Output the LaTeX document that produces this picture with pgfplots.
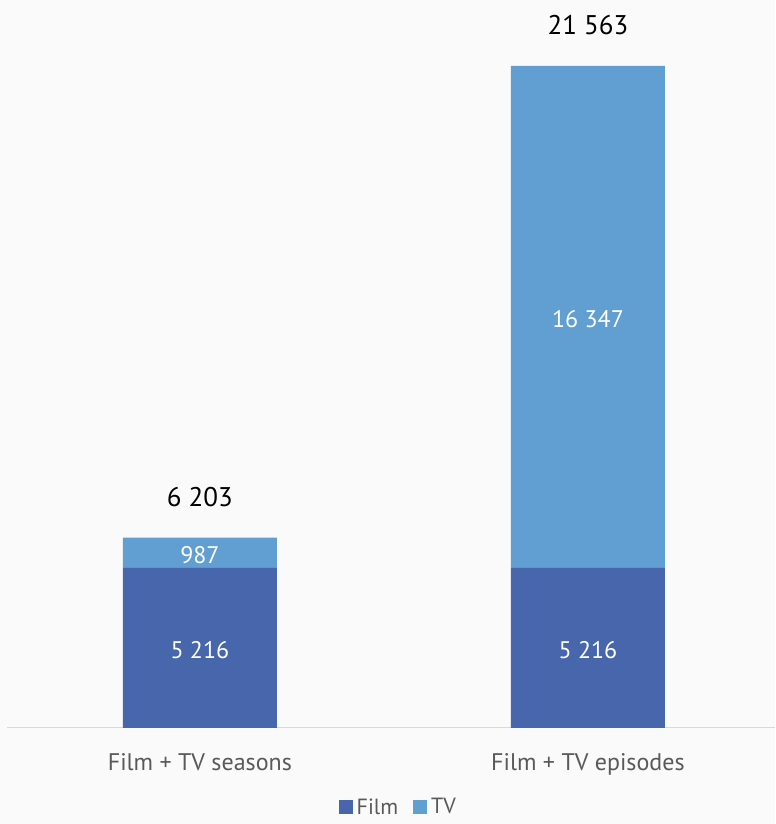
\documentclass[border=0pt]{standalone}
\usepackage{pgfplots}
\pgfplotsset{compat=1.18}
\usepackage{fontspec}
\setmainfont{PT Sans}
\definecolor{filmc}{RGB}{72,102,172}
\definecolor{tvc}{RGB}{97,158,210}
\definecolor{bgc}{RGB}{250,250,250}
\definecolor{labc}{RGB}{89,89,89}
\definecolor{axc}{RGB}{217,217,217}
\pgfplotsset{
  base/.style={
    scale only axis, width=768pt, height=728pt,
    at={(7pt,96pt)}, anchor=south west,
    xmin=-0.497, xmax=1.482, ymin=0, ymax=23713,
    enlargelimits=false, clip=false,
  }
}
\begin{document}
\begin{tikzpicture}
\fill[bgc] (0,0) rectangle (775pt,824pt);
% stacked bars, axis line, ticks and legend
\begin{axis}[base,
  ybar stacked, bar width=154pt,
  axis y line=none, axis x line*=bottom,
  x axis line style={draw=axc, line width=1pt, -},
  xtick={0,1}, xticklabels={Film + TV seasons, Film + TV episodes},
  major tick length=0pt, ytick=\empty,
  xticklabel style={font=\fontsize{24}{28}\selectfont, text=labc, yshift=-22pt},
  legend columns=2,
  legend style={at={(0.5095,-0.1085)}, anchor=center, draw=none, fill=none,
    font=\fontsize{22}{26}\selectfont, text=labc,
    /tikz/every odd column/.append style={column sep=2pt},
    /tikz/every even column/.append style={column sep=13pt}},
  legend image code/.code={\fill[#1] (0pt,-7pt) rectangle (14pt,7pt);},
]
\addplot[fill=filmc, draw=none] coordinates {(0,5216) (1,5216)};
\addplot[fill=tvc, draw=none] coordinates {(0,987) (1,16347)};
\legend{Film, TV}
\end{axis}
% value labels (segment values and totals)
\begin{axis}[base, hide axis,
  /pgf/number format/1000 sep={\ },
  /pgf/number format/assume math mode=true,
]
\addplot[draw=none, mark=none, point meta=explicit, nodes near coords,
  nodes near coords style={anchor=center, yshift=-2.5pt, text=white, font=\fontsize{24}{28}\selectfont}]
  coordinates {(0,2608) [5216] (1,2608) [5216] (0,5709.5) [987] (1,13389.5) [16347]};
\addplot[draw=none, mark=none, point meta=y, nodes near coords,
  nodes near coords style={anchor=center, yshift=41pt, text=black, font=\fontsize{27}{32}\selectfont}]
  coordinates {(0,6203) (1,21563)};
\end{axis}
\end{tikzpicture}
\end{document}
